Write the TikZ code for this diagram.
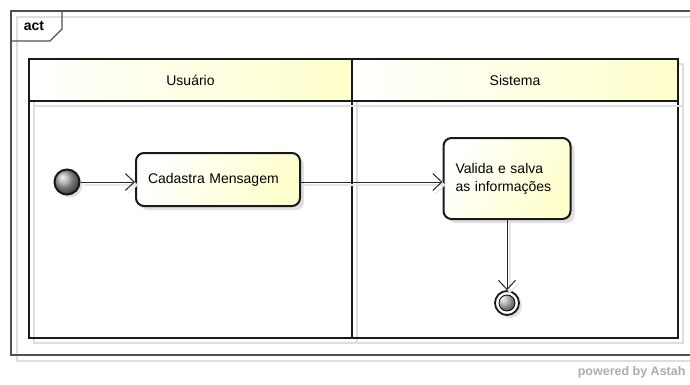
\documentclass[tikz,border=0pt]{standalone}
\usepackage{fontspec}
\setmainfont{Liberation Sans}
\usetikzlibrary{arrows.meta,shadows}

\definecolor{lanefill}{RGB}{255,255,204}
\definecolor{framegray}{RGB}{80,80,80}
\definecolor{shadowgray}{RGB}{222,222,222}

\newcommand\acttextstyle{\fontsize{14}{18}\selectfont}
\newcommand\tabtextstyle{\fontsize{14}{16}\bfseries}
\newcommand\laneheadheight{42}
\newcommand\lanebodyheight{237}

\tikzset{
  frameline/.style={draw=framegray, line width=1.3pt},
  frameshadow/.style={draw=shadowgray, line width=1.3pt},
  lanebox/.style={rectangle, draw=black!90, line width=2pt, inner sep=0pt,
    font=\acttextstyle,
    drop shadow={shadow xshift=5pt, shadow yshift=-5pt, opacity=1,
      fill=none, draw=shadowgray, line width=2pt}},
  lanehead/.style={lanebox, minimum height=\laneheadheight,
    left color=white, right color=lanefill},
  lanebody/.style={lanebox, minimum height=\lanebodyheight},
  actionbox/.style={rectangle, rounded corners=8pt, draw=black!90, line width=2pt,
    left color=white, right color=lanefill, shading angle=60,
    align=left, inner xsep=12pt, font=\acttextstyle,
    drop shadow={shadow xshift=4pt, shadow yshift=-4pt, opacity=1, fill=black!12}},
  startnode/.style={circle, draw=black!90, line width=2pt, minimum size=25, inner sep=0pt,
    shading=ball, ball color=black!35,
    drop shadow={shadow xshift=3pt, shadow yshift=-3pt, opacity=1, fill=black!12}},
  endnode/.style={circle, draw=black!90, line width=1.8pt, minimum size=24, inner sep=0pt,
    fill=white,
    drop shadow={shadow xshift=3pt, shadow yshift=-3pt, opacity=1, fill=black!12},
    path picture={\shadedraw[ball color=black!35, draw=black, line width=.8pt]
      (path picture bounding box.center) circle (8pt);}},
  flow/.style={draw=black!85, line width=1pt,
    -{Straight Barb[length=9pt,width=17pt,line width=1pt]},
    preaction={draw=black!10, line width=1.6pt,
      transform canvas={shift={(3pt,-3pt)}}}},
}

\begin{document}
\begin{tikzpicture}[x=1pt, y=-1pt]
  \useasboundingbox[fill=white] (0,0) rectangle (690,385);

  % frame with its tab
  \draw[frameshadow] (17,17) rectangle (712,361);
  \draw[frameline] (11,11) rectangle (706,355);
  \draw[frameline] (11,41) -- (50,41) -- (62,29) -- (62,11);
  \node[font=\tabtextstyle] (tab) at (34,26) {act};

  % swimlanes
  \node[lanebody, minimum width=323] (usuariobody) at (190.5,219.5) {};
  \node[lanebody, minimum width=326] (sistemabody) at (515,219.5) {};
  \node[lanehead, minimum width=323] (usuario) at (190.5,80) {Usuário};
  \node[lanehead, minimum width=326] (sistema) at (515,80) {Sistema};

  % activity nodes
  \node[startnode] (inicio) at (67,182) {};
  \node[actionbox, text width=140, minimum height=53] (cadastra) at (218,179.5)
    {Cadastra Mensagem};
  \node[actionbox, text width=103, minimum height=81] (valida) at (507,178.5)
    {Valida e salva\\as informações};
  \node[endnode] (fim) at (507,303) {};

  % control flows
  \draw[flow] (inicio.east) -- (inicio -| cadastra.west);
  \draw[flow] (cadastra.east |- inicio) -- (valida.west |- inicio);
  \draw[flow] (valida.south) -- (fim.north);

  \node[anchor=east, text=black!32, font=\fontsize{12.5}{14}\bfseries] (astah) at (689,372)
    {powered by Astah};
\end{tikzpicture}
\end{document}
